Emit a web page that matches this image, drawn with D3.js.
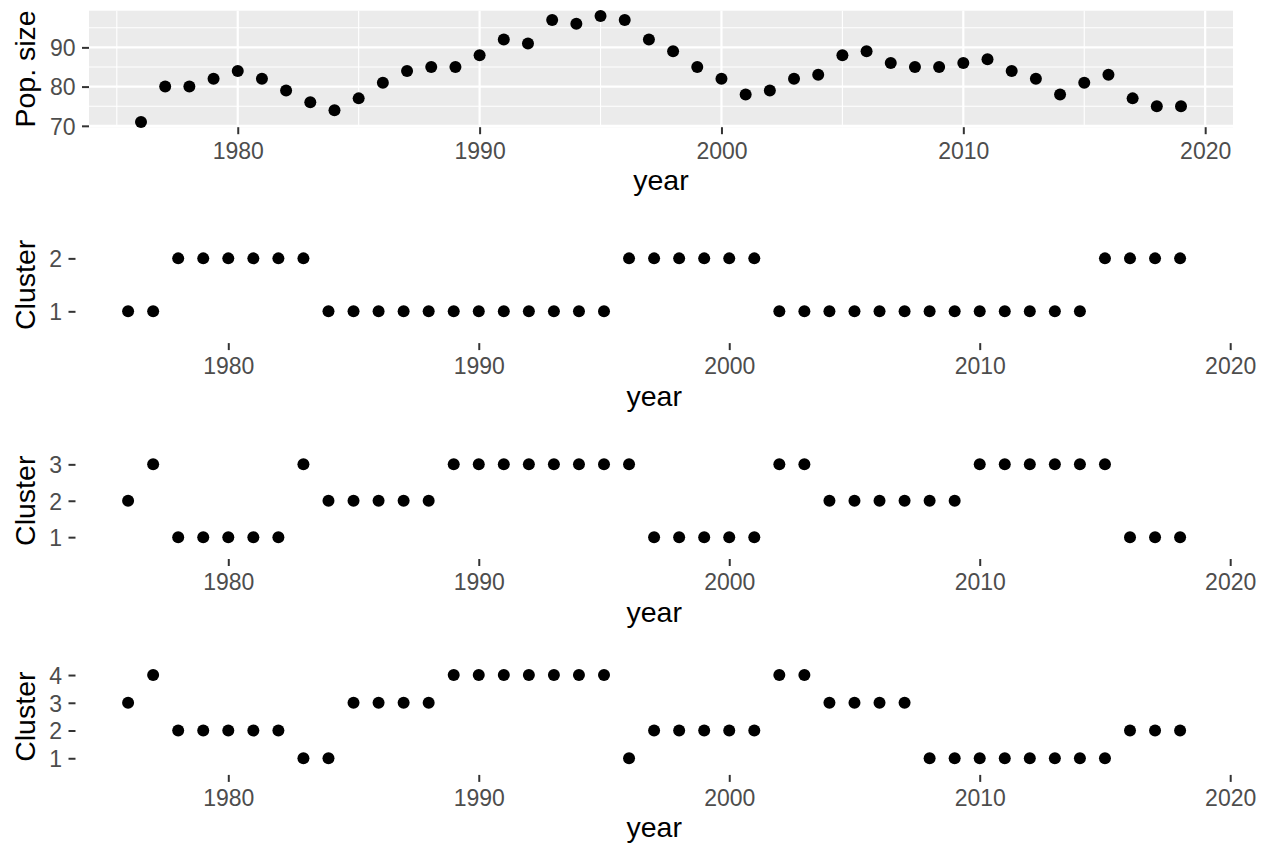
<!DOCTYPE html>
<html>
<head>
<meta charset="utf-8">
<script src="https://cdn.jsdelivr.net/npm/d3@7"></script>
<style>
  html, body { margin: 0; padding: 0; background: #ffffff; }
  svg text { font-family: "Liberation Sans", Arial, Helvetica, sans-serif; }
</style>
</head>
<body>
<svg id="chart" width="1270" height="850"></svg>
<script>
// Population size per year
const popYears = d3.range(1976, 2020);
const popSize = [71, 80, 80, 82, 84, 82, 79, 76, 74, 77, 81, 84, 85, 85, 88, 92, 91, 97, 96, 98,
                 97, 92, 89, 85, 82, 78, 79, 82, 83, 88, 89, 86, 85, 85, 86, 87, 84, 82, 78, 81,
                 83, 77, 75, 75];

// Cluster assignment per year for k = 2, 3, 4
const clusterYears = d3.range(1976, 2019);
const clusterK2 = [1, 1, 2, 2, 2, 2, 2, 2, 1, 1, 1, 1, 1, 1, 1, 1, 1, 1, 1, 1,
                   2, 2, 2, 2, 2, 2, 1, 1, 1, 1, 1, 1, 1, 1, 1, 1, 1, 1, 1, 2,
                   2, 2, 2];
const clusterK3 = [2, 3, 1, 1, 1, 1, 1, 3, 2, 2, 2, 2, 2, 3, 3, 3, 3, 3, 3, 3,
                   3, 1, 1, 1, 1, 1, 3, 3, 2, 2, 2, 2, 2, 2, 3, 3, 3, 3, 3, 3,
                   1, 1, 1];
const clusterK4 = [3, 4, 2, 2, 2, 2, 2, 1, 1, 3, 3, 3, 3, 4, 4, 4, 4, 4, 4, 4,
                   1, 2, 2, 2, 2, 2, 4, 4, 3, 3, 3, 3, 1, 1, 1, 1, 1, 1, 1, 1,
                   2, 2, 2];

const yearTicks = [1980, 1990, 2000, 2010, 2020];
const popTicks = [70, 80, 90];
const popMinor = [75, 85, 95];
const yearMinor = [1975, 1985, 1995, 2005, 2015];

const svg = d3.select("#chart");

const TICK_FS = 23, TITLE_FS = 28.5;
const TEXT_GREY = "#4D4D4D", TICK_GREY = "#333333";
const PANEL_H = 116.5, PLOT_STEP = 215.9, PANEL_TOP0 = 10.7;
const RIGHT = 1233;

function expand(ext, mult) {
  const pad = (ext[1] - ext[0]) * mult;
  return [ext[0] - pad, ext[1] + pad];
}

function drawXAxis(g, x, bottom) {
  const ax = g.append("g")
    .attr("transform", `translate(0,${bottom})`)
    .call(d3.axisBottom(x).tickValues(yearTicks).tickFormat(d3.format("d")).tickSize(7).tickPadding(8));
  ax.select(".domain").remove();
  ax.selectAll(".tick line").attr("stroke", TICK_GREY).attr("stroke-width", 2);
  ax.selectAll(".tick text").attr("font-size", TICK_FS).attr("fill", TEXT_GREY)
    .attr("font-family", null);
}

function drawYAxis(g, axis, left) {
  const ax = g.append("g")
    .attr("transform", `translate(${left},0)`)
    .call(axis.tickSize(7).tickPadding(6.5));
  ax.select(".domain").remove();
  ax.selectAll(".tick line").attr("stroke", TICK_GREY).attr("stroke-width", 2);
  ax.selectAll(".tick text").attr("font-size", TICK_FS).attr("fill", TEXT_GREY)
    .attr("font-family", null).attr("dy", "0.36em");
}

function drawTitles(g, left, top, bottom, yTitle) {
  g.append("text")
    .attr("x", (left + RIGHT) / 2)
    .attr("y", bottom + 62.5)
    .attr("text-anchor", "middle")
    .attr("font-size", TITLE_FS)
    .attr("fill", "#000")
    .text("year");
  g.append("text")
    .attr("transform", `translate(35,${(top + bottom) / 2}) rotate(-90)`)
    .attr("text-anchor", "middle")
    .attr("font-size", TITLE_FS)
    .attr("fill", "#000")
    .text(yTitle);
}

// ---- Population size panel ----
(function () {
  const left = 89, top = PANEL_TOP0, bottom = top + PANEL_H;
  const g = svg.append("g");
  const x = d3.scaleLinear().domain(expand(d3.extent(popYears), 0.05)).range([left, RIGHT]);
  const y = d3.scaleLinear().domain(expand(d3.extent(popSize), 0.05)).range([bottom, top]);

  g.append("rect").attr("x", left).attr("y", top)
    .attr("width", RIGHT - left).attr("height", bottom - top).attr("fill", "#EBEBEB");

  const inX = v => v >= x.domain()[0] && v <= x.domain()[1];
  const inY = v => v >= y.domain()[0] && v <= y.domain()[1];

  g.selectAll(".ymin").data(popMinor.filter(inY)).join("line")
    .attr("x1", left).attr("x2", RIGHT).attr("y1", d => y(d)).attr("y2", d => y(d))
    .attr("stroke", "#fff").attr("stroke-width", 1.1);
  g.selectAll(".xmin").data(yearMinor.filter(inX)).join("line")
    .attr("y1", top).attr("y2", bottom).attr("x1", d => x(d)).attr("x2", d => x(d))
    .attr("stroke", "#fff").attr("stroke-width", 1.1);
  g.selectAll(".ymaj").data(popTicks.filter(inY)).join("line")
    .attr("x1", left).attr("x2", RIGHT).attr("y1", d => y(d)).attr("y2", d => y(d))
    .attr("stroke", "#fff").attr("stroke-width", 2.2);
  g.selectAll(".xmaj").data(yearTicks.filter(inX)).join("line")
    .attr("y1", top).attr("y2", bottom).attr("x1", d => x(d)).attr("x2", d => x(d))
    .attr("stroke", "#fff").attr("stroke-width", 2.2);

  g.selectAll("circle").data(popYears.map((yr, i) => [yr, popSize[i]])).join("circle")
    .attr("cx", d => x(d[0])).attr("cy", d => y(d[1])).attr("r", 6).attr("fill", "#000");

  drawXAxis(g, x, bottom);
  drawYAxis(g, d3.axisLeft(y).tickValues(popTicks), left);
  drawTitles(g, left, top, bottom, "Pop. size");
})();

// ---- Cluster panels ----
[clusterK2, clusterK3, clusterK4].forEach((vals, idx) => {
  const left = 75.5;
  const top = PANEL_TOP0 + (idx + 1) * PLOT_STEP, bottom = top + PANEL_H;
  const k = d3.max(vals);
  const levels = d3.range(1, k + 1).map(String);
  const g = svg.append("g");
  const x = d3.scaleLinear().domain(expand(d3.extent(clusterYears), 0.05)).range([left, RIGHT - 0.3]);
  const y = d3.scalePoint().domain(levels).range([bottom, top]).padding(0.6);

  g.selectAll("circle").data(clusterYears.map((yr, i) => [yr, vals[i]])).join("circle")
    .attr("cx", d => x(d[0])).attr("cy", d => y(String(d[1]))).attr("r", 6).attr("fill", "#000");

  drawXAxis(g, x, bottom);
  drawYAxis(g, d3.axisLeft(y), left);
  drawTitles(g, left, top, bottom, "Cluster");
});
</script>
</body>
</html>
